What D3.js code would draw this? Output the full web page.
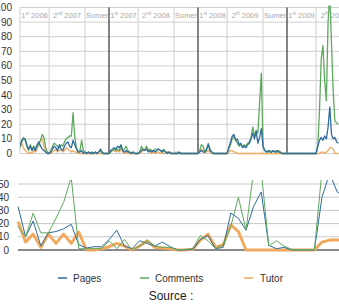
<!DOCTYPE html>
<html>
<head>
<meta charset="utf-8">
<script src="https://cdn.jsdelivr.net/npm/d3@7"></script>
<style>
  body { margin: 0; background: #fff; }
  svg { display: block; font-family: "Liberation Sans", Arial, sans-serif; }
</style>
</head>
<body>
<div id="chart"></div>
<script>
// weekly counts, top chart (week 0 = start of 1st semester 2006)
var pagesWeekly = [
  5,9,10,10,6,3,5,2,4,2,6,8,5,3,2,1,0,
  0,1,3,5,4,2,6,3,2,5,7,8,5,4,9,6,3,1,1,2,0,
  1,0,1,0,1,0,1,0,1,3,1,0,0,0,
  0,2,3,4,3,5,4,6,2,1,2,1,1,0,1,0,0,0,
  1,2,3,2,3,1,2,1,2,1,2,3,2,1,2,1,0,1,0,0,0,
  0,0,1,0,0,0,0,0,0,0,0,0,0,
  0,1,2,1,1,3,6,2,1,0,0,0,0,0,0,0,0,0,
  4,8,12,13,9,10,6,7,4,5,4,6,7,10,14,10,15,7,11,17,5,
  2,1,2,1,1,2,1,2,1,1,0,0,0,
  0,0,0,0,0,0,0,0,0,0,0,0,0,0,0,0,0,0,
  5,9,11,9,12,10,18,32,13,10,11,8,7
];
var commentsWeekly = [
  4,8,11,9,5,2,6,3,5,4,5,6,9,13,11,4,1,
  0,2,5,7,6,5,4,6,5,8,10,11,12,12,28,11,4,1,2,9,2,
  1,0,1,0,0,0,1,0,1,2,0,0,0,0,
  0,1,2,3,2,3,2,5,2,3,5,2,1,0,1,0,0,0,
  1,5,2,3,5,2,3,2,2,3,3,3,2,2,3,1,1,1,0,0,0,
  0,0,0,0,0,0,0,0,0,0,0,0,0,
  0,2,6,5,1,2,7,3,1,0,0,0,0,0,0,0,0,0,
  3,6,10,12,9,7,5,6,5,6,5,7,8,11,18,12,16,14,35,55,5,
  2,1,1,2,1,2,1,1,2,1,0,0,0,
  0,0,0,0,0,0,0,0,0,0,0,0,0,0,0,0,0,0,
  5,30,65,74,50,36,90,110,75,42,22,21,20
];
var tutorWeekly = [
  6,7,4,2,1,0,1,0,2,1,3,6,9,10,5,1,0,
  0,0,1,2,3,1,2,3,1,2,4,3,2,1,2,1,1,0,0,0,0,
  0,0,0,0,0,0,0,0,0,0,0,0,0,0,
  0,1,2,2,1,2,1,3,1,0,1,0,0,0,0,0,0,0,
  0,1,2,3,4,2,1,0,1,0,1,1,0,1,0,0,1,0,1,0,0,
  1,1,0,0,0,0,0,0,0,0,0,0,0,
  0,1,3,2,1,1,2,1,0,0,0,0,0,0,0,0,0,0,
  1,2,2,1,1,0,0,0,0,0,0,0,0,0,0,0,0,0,0,0,0,
  0,0,0,0,0,0,0,0,0,0,0,0,0,
  0,0,0,0,0,0,0,0,0,0,0,0,0,0,0,0,0,0,
  0,0,1,1,0,1,2,4,4,3,0,0,0
];

// semester bands (start week) and their header labels
var bandStarts = [0, 17, 38, 52, 69, 90, 104, 121, 142, 156, 173, 194];
var bandLabels = [
  ["1", "st", " 2006"], ["2", "nd", " 2007"], ["Sumer", "", ""],
  ["1", "st", " 2007"], ["2", "nd", " 2008"], ["Sumer", "", ""],
  ["1", "st", " 2008"], ["2", "th", " 2009"], ["Sumer", "", ""],
  ["1", "st", " 2009"], ["2", "th", " 2010"]
];
var yearStarts = [52, 104, 156];

// bottom chart
var pagesLower = [33,10,22,3,13,14,16,19.5,4,1.5,2.5,2.5,8,15,3,1,7,5,3,6,2.5,0,0,0.5,8,11,1,2,28,24,15,33,44,3.5,1,2,0,0,0,0,40,58,44,40];
var commentsLower = [18,10,28,13,13,24,36,55,1,1,1,1,7,1,8,0,3,7,3,2,2,0,0.5,1,11,7,1,4,18,40,15,60,60,3,7,3,0.5,0,0,0,60,70,60,60];
var tutorLower = [21.5,6,12,2,12,5,12,5,13.5,0,0,1,2.5,5,3,0,3,7,2,1.5,1,0,0,0.5,7.5,12,2,4,19,14,0,0,0,0,0,0,0,0,0,0,6,7.5,7.5,7.5];

var topTicks = [0,10,20,30,40,50,60,70,80,90,100];
var lowerTicks = [0,10,20,30,40,50];

var seriesNames = ["Pages", "Comments", "Tutor"];
var colors = { Pages: "#2f6b9e", Comments: "#5fa95f", Tutor: "#f2a95e" };

var width = 339, height = 305;
var svg = d3.select("#chart").append("svg")
  .attr("width", width).attr("height", height);

// ---------- top chart
var xTop = d3.scaleLinear().domain([0, 52]).range([20, 109]);
var yTop = d3.scaleLinear().domain([0, 100]).range([153.5, 7.5]);

var topG = svg.append("g");

topG.selectAll(".hgrid").data(topTicks).enter().append("line")
  .attr("x1", 20).attr("x2", width)
  .attr("y1", d => yTop(d)).attr("y2", d => yTop(d))
  .attr("stroke", "#cfcfcf").attr("stroke-width", 1);

topG.selectAll(".vgrid").data(bandStarts).enter().append("line")
  .attr("x1", d => xTop(d)).attr("x2", d => xTop(d))
  .attr("y1", yTop(100)).attr("y2", yTop(0))
  .attr("stroke", d => yearStarts.indexOf(d) >= 0 ? "#333" : "#cfcfcf")
  .attr("stroke-width", d => yearStarts.indexOf(d) >= 0 ? 1.2 : 1);

var lbl = topG.selectAll(".band").data(bandLabels).enter().append("text")
  .attr("x", (d, i) => (xTop(bandStarts[i]) + xTop(bandStarts[i + 1])) / 2)
  .attr("y", 18)
  .attr("text-anchor", "middle")
  .attr("font-size", 7.5)
  .attr("fill", "#a8a8a8");
lbl.append("tspan").text(d => d[0]);
lbl.append("tspan").attr("font-size", 4.5).attr("dy", -3).text(d => d[1]);
lbl.append("tspan").attr("dy", 3).text(d => d[2]);

topG.selectAll(".ytick").data(topTicks).enter().append("text")
  .attr("x", 12).attr("y", d => yTop(d) + 3.5)
  .attr("text-anchor", "end").attr("font-size", 10).attr("fill", "#333")
  .text(d => d);

svg.append("clipPath").attr("id", "clipTop").append("rect")
  .attr("x", 20).attr("y", 5.5).attr("width", width - 20).attr("height", 150);

var topSeries = { Pages: pagesWeekly, Comments: commentsWeekly, Tutor: tutorWeekly };
var lineTop = d3.line().x((d, i) => xTop(i)).y(d => yTop(d));

["Tutor", "Comments", "Pages"].forEach(function(name) {
  topG.append("path")
    .datum(topSeries[name])
    .attr("clip-path", "url(#clipTop)")
    .attr("fill", "none")
    .attr("stroke", colors[name])
    .attr("stroke-width", 1.3)
    .attr("stroke-linejoin", "round")
    .attr("d", lineTop);
});

// ---------- bottom chart
var xLow = d3.scaleLinear().domain([0, 42]).range([18, 337.2]);
var yLow = d3.scaleLinear().domain([0, 50]).range([250, 184]);

var lowG = svg.append("g");

lowG.selectAll(".hgrid").data(lowerTicks).enter().append("line")
  .attr("x1", 18).attr("x2", width)
  .attr("y1", d => yLow(d)).attr("y2", d => yLow(d))
  .attr("stroke", d => d === 0 ? "#8a8a8a" : "#c8c8c8")
  .attr("stroke-width", d => d === 0 ? 2 : 1);

lowG.selectAll(".ytick").data(lowerTicks).enter().append("text")
  .attr("x", 9).attr("y", d => yLow(d) + 3.5)
  .attr("text-anchor", "end").attr("font-size", 10).attr("fill", "#333")
  .text(d => d);

svg.append("clipPath").attr("id", "clipLow").append("rect")
  .attr("x", 0).attr("y", 180).attr("width", width).attr("height", 80);

var lowSeries = { Pages: pagesLower, Comments: commentsLower, Tutor: tutorLower };
var lineLow = d3.line().x((d, i) => xLow(i)).y(d => yLow(d));

["Tutor", "Pages", "Comments"].forEach(function(name) {
  lowG.append("path")
    .datum(lowSeries[name])
    .attr("clip-path", "url(#clipLow)")
    .attr("fill", "none")
    .attr("stroke", colors[name])
    .attr("stroke-width", name === "Tutor" ? 3 : 1)
    .attr("stroke-linejoin", "round")
    .attr("d", lineLow);
});

// ---------- legend
var legendX = [58, 140, 244];
var legend = svg.selectAll(".legend").data(seriesNames).enter().append("g")
  .attr("transform", (d, i) => "translate(" + legendX[i] + ",278)");
legend.append("line")
  .attr("x1", 0).attr("x2", 9)
  .attr("stroke", d => colors[d]).attr("stroke-width", 1.5);
legend.append("text")
  .attr("x", (d, i) => i === 2 ? 16 : 15).attr("y", 3.5)
  .attr("font-size", 10).attr("fill", "#333")
  .text(d => d);

svg.append("text")
  .attr("x", 171).attr("y", 300)
  .attr("text-anchor", "middle")
  .attr("font-size", 12).attr("fill", "#222")
  .text("Source :");
</script>
</body>
</html>
